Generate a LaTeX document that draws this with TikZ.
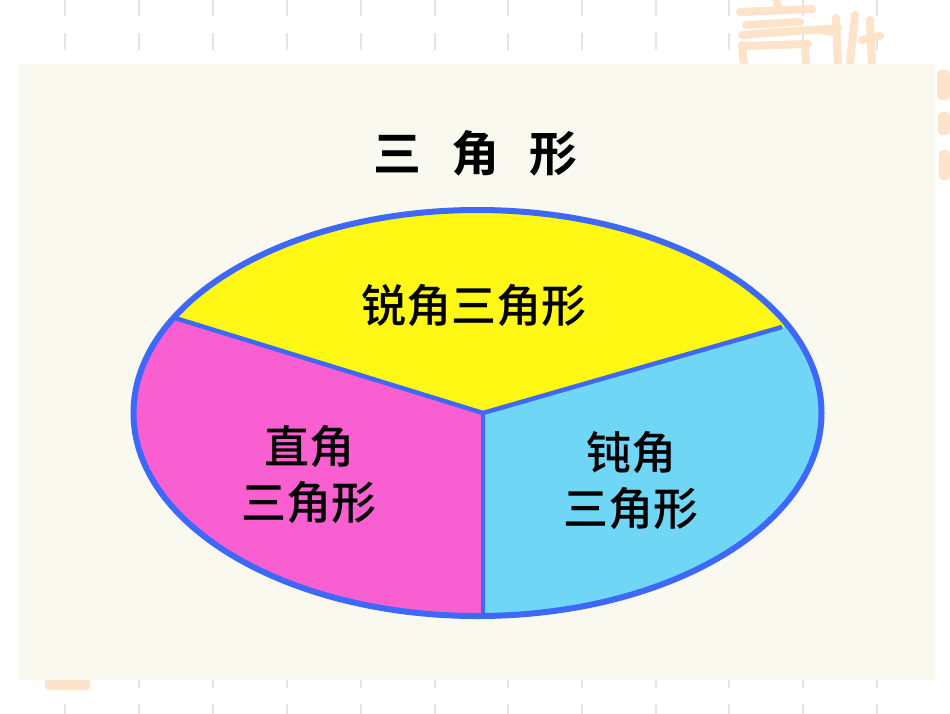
\documentclass[tikz,border=0pt]{standalone}
\usepackage{fontspec}
\newfontfamily\cjkb{Noto Sans CJK SC Bold}
\newfontfamily\cjkm{Noto Sans CJK SC Medium}
\definecolor{cream}{HTML}{FAF9EF}
\definecolor{dashgray}{HTML}{E4E4E4}
\definecolor{peach}{HTML}{FDE3C9}
\definecolor{rimblue}{HTML}{3D68F8}
\definecolor{acuteyellow}{HTML}{FFF714}
\definecolor{rightpink}{HTML}{F95FD0}
\definecolor{obtusecyan}{HTML}{70D6F5}
\tikzset{
  tick/.style={draw=dashgray, line width=2pt},
  titletext/.style={inner sep=0pt, font=\cjkb\fontsize{48}{56}\selectfont},
  sectortext/.style={inner sep=0pt, align=center, font=\cjkm\fontsize{45}{56}\selectfont},
  divider/.style={draw=rimblue, line width=4.5pt},
  rim/.style={draw=rimblue, line width=6pt},
  blot/.style={fill=peach, rounded corners=4pt},
  brush/.style={draw=peach, line width=8pt, line cap=round},
}
\begin{document}
\begin{tikzpicture}[x=1pt,y=-1pt]
\useasboundingbox (0,0) rectangle (950,713);
\fill[white] (0,0) rectangle (950,713);
% background dash grid
\foreach \xx in {65,139,213,287,361,435,508,582,656,729,803,877}{
  \draw[tick] (\xx,0) -- (\xx,16);
  \draw[tick] (\xx,33) -- (\xx,50);
  \draw[tick] (\xx,672) -- (\xx,688);
  \draw[tick] (\xx,704) -- (\xx,720);
}
% faint watermark brush strokes
\draw[brush] (776,-2) -- (778,8);
\draw[brush] (740,12) -- (812,9);
\draw[brush] (746,25) -- (800,22);
\draw[brush] (742,35) -- (838,28);
\draw[brush] (742,45) -- (744,66);
\draw[brush] (746,46) -- (808,44);
\draw[brush] (805,46) -- (806,66);
\draw[brush] (822,30) -- (832,32);
\draw[brush] (836,18) -- (838,66);
\draw[brush] (855,15) -- (850,62);
\draw[brush] (862,40) -- (880,36);
\draw[brush] (870,20) -- (872,66);
\fill[blot] (937,70) rectangle (950,100);
\fill[blot] (938,112) rectangle (950,135);
\fill[blot] (939,150) rectangle (950,180);
\fill[blot] (45,676) rectangle (90,690);
% cream panel
\fill[cream] (18,64) rectangle (935,680);
% title
\node[titletext] (title) at (475,153) {三\hspace{30pt}角\hspace{30pt}形};
% ellipse sectors
\coordinate (c) at (483,413);
\coordinate (l) at (175,318);
\coordinate (r) at (782,327);
\coordinate (b) at (483,620);
\begin{scope}
  \clip (477.5,413) ellipse [x radius=344, y radius=203];
  \fill[acuteyellow] (c) -- (83,290) -- (83,150) -- (872,150) -- (872,301) -- cycle;
  \fill[rightpink] (c) -- (83,290) -- (83,680) -- (483,680) -- cycle;
  \fill[obtusecyan] (c) -- (483,680) -- (872,680) -- (872,301) -- cycle;
  \draw[divider] (c) -- (l);
  \draw[divider] (c) -- (r);
  \draw[divider] (c) -- (b);
\end{scope}
\draw[rim] (477.5,413) ellipse [x radius=344, y radius=203];
% labels
\node[sectortext] (acute) at (474,306) {锐角三角形};
\node[sectortext] (right) at (309,475) {直角\\三角形};
\node[sectortext] (obtuse) at (631,481) {钝角\\三角形};
\end{tikzpicture}
\end{document}
